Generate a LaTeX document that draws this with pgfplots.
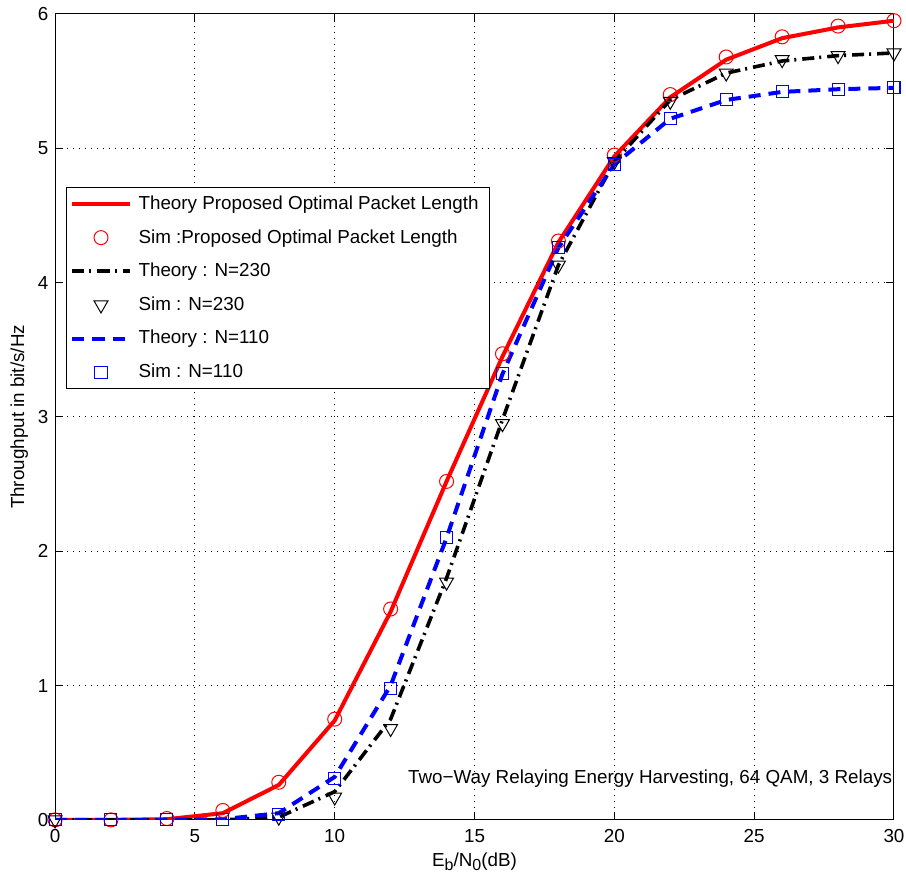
\documentclass[border=0pt]{standalone}
\usepackage{fontspec}
\setmainfont{Liberation Sans}
\usepackage{pgfplots}
\pgfplotsset{compat=1.18}
\usetikzlibrary{calc}

\newcommand{\fs}{\fontsize{9.4bp}{11bp}\selectfont}
\newcommand{\sub}[1]{\raisebox{-0.45ex}{\fontsize{8bp}{9bp}\selectfont #1}}

\begin{document}
\fs
\begin{tikzpicture}
\begin{axis}[
    scale only axis,
    width=419bp, height=402.5bp,
    xmin=0, xmax=30, ymin=0, ymax=6,
    xtick={0,5,...,30}, ytick={0,1,...,6},
    tick align=inside, major tick length=4bp,
    axis line style={line width=0.5bp},
    tick style={line width=0.5bp, black},
    grid=major,
    grid style={line width=0.5bp, black, dash pattern=on 0.5bp off 2.5bp},
    /pgf/number format/assume math mode=true,
    tick label style={font=\fs},
    label style={font=\fs},
    xticklabel style={yshift=-1.5bp},
    xlabel={E\sub{b}/N\sub{0}(dB)},
    ylabel={Throughput in bit/s/Hz},
    xlabel style={yshift=1.5bp},
    ylabel style={yshift=-1.5bp},
    legend cell align=left,
    legend style={at={(rel axis cs:0.013,0.785)}, anchor=north west,
        draw=black, line width=0.5bp, fill=white,
        font=\fs,
        row sep=4.6bp, inner sep=2bp,
        nodes={inner xsep=3.5bp}},
    legend image code/.code={\draw[mark repeat=2,mark phase=2] plot coordinates {(0bp,0bp)(14.25bp,0bp)(28.5bp,0bp)};},
]
\addplot[red, line width=2bp] coordinates {
(0,0) (2,0) (4,0.005) (6,0.05) (8,0.26) (10,0.74) (12,1.55) (14,2.52) (16,3.45) (18,4.30) (20,4.94) (22,5.38) (24,5.66) (26,5.82) (28,5.90) (30,5.95)};
\addlegendentry{Theory Proposed Optimal Packet Length}
\addplot[only marks, red, mark=o, mark size=3.5bp, line width=0.5bp,
    legend image code/.code={\draw plot coordinates {(14.25bp,0bp)};}] coordinates {
(0,0) (2,0) (4,0.01) (6,0.07) (8,0.28) (10,0.75) (12,1.57) (14,2.52) (16,3.47) (18,4.31) (20,4.95) (22,5.40) (24,5.68) (26,5.83) (28,5.91) (30,5.95)};
\addlegendentry{Sim :Proposed Optimal Packet Length}
\addplot[black, line width=1.8bp, dash pattern=on 6bp off 2.5bp on 1bp off 3bp] coordinates {
(0,0) (2,0) (4,0) (6,0) (8,0.02) (10,0.21) (12,0.75) (14,1.80) (16,2.98) (18,4.13) (20,4.90) (22,5.36) (24,5.56) (26,5.65) (28,5.69) (30,5.71)};
\addlegendentry{Theory : N=230}
\addplot[only marks, black, mark=triangle, mark options={rotate=180}, mark size=4bp, line width=0.5bp,
    legend image code/.code={\draw plot coordinates {(14.25bp,0bp)};}] coordinates {
(0,0) (2,-0.01) (4,-0.01) (6,-0.01) (8,0.02) (10,0.17) (12,0.68) (14,1.77) (16,2.95) (18,4.13) (20,4.90) (22,5.35) (24,5.56) (26,5.66) (28,5.69) (30,5.71)};
\addlegendentry{Sim : N=230}
\addplot[blue, line width=2bp, dash pattern=on 6bp off 4bp] coordinates {
(0,0) (2,0) (4,0) (6,0.005) (8,0.05) (10,0.32) (12,1.0) (14,2.10) (16,3.32) (18,4.26) (20,4.88) (22,5.22) (24,5.36) (26,5.42) (28,5.44) (30,5.45)};
\addlegendentry{Theory : N=110}
\addplot[only marks, blue, mark=square, mark size=3bp, line width=0.5bp,
    legend image code/.code={\draw plot coordinates {(14.25bp,0bp)};}] coordinates {
(0,0) (2,0) (4,0) (6,0) (8,0.04) (10,0.31) (12,0.98) (14,2.10) (16,3.32) (18,4.26) (20,4.88) (22,5.22) (24,5.36) (26,5.42) (28,5.44) (30,5.45)};
\addlegendentry{Sim : N=110}
\node[anchor=east, inner sep=0pt, font=\fs] at (axis cs:29.95,0.31) {Two−Way Relaying Energy Harvesting, 64 QAM, 3 Relays};
\end{axis}
\pgfresetboundingbox
\path ($(current axis.south west)+(-27.5bp,-35bp)$) rectangle ($(current axis.north east)+(6bp,7bp)$);
\end{tikzpicture}
\end{document}
